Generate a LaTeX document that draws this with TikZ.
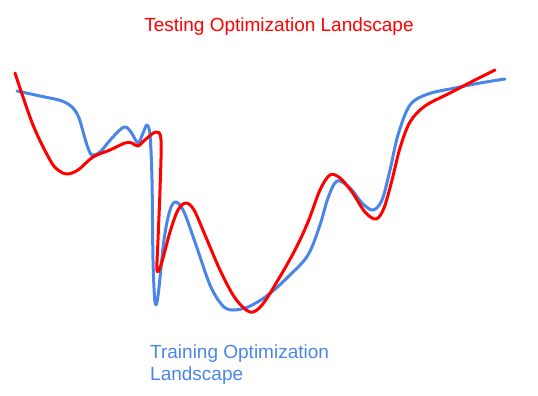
\documentclass[tikz,border=0pt]{standalone}
\usepackage{fontspec}
\setmainfont{Liberation Sans}
\definecolor{trainblue}{RGB}{74,134,232}
\definecolor{testred}{RGB}{255,0,0}
\begin{document}
\begin{tikzpicture}[x=1pt,y=-1pt,
  curve/.style={line width=3pt,line cap=round,line join=round},
  lbl/.style={font=\fontsize{19}{22}\selectfont,inner sep=0pt}]
\useasboundingbox (0,0) rectangle (538,396);
% training curve (blue)
\draw[curve,trainblue] plot[smooth,tension=0.55] coordinates {
 (17,91) (40,96) (62,101) (73,108) (79,118) (84,135) (88,148) (92,155) (100,152) (112,138) (124,127) (131,132) (138,143) (143,133) (147,125) (150,135)
 (152,180) (153,260) (155,302) (158,296) (164,240) (170,210) (176,202) (184,212) (196,245) (210,285) (222,305) (232,310) (248,307)
 (268,295) (290,275) (308,255) (320,225) (328,198) (337,181) (350,188) (362,203) (373,210) (382,200) (390,170) (398,135) (410,105)
 (428,94) (455,88) (480,83) (505,79)};
% testing curve (red)
\draw[curve,testred] plot[smooth,tension=0.55] coordinates {
 (15,73) (33,125) (50,160) (58,170) (67,174) (78,170) (93,157) (110,150) (125,143) (132,143) (138,146) (146,139) (156,132) (161,140)
 (160,190) (158,240) (157,270) (161,265) (170,232) (178,210) (186,203) (194,210) (205,235) (220,270) (235,298) (250,312) (262,305)
 (278,280) (295,250) (308,222) (320,190) (330,175) (340,178) (352,192) (365,212) (376,219) (384,208) (392,180) (400,148) (410,122) (425,106)
 (450,93) (475,80) (495,70)};
\node[lbl,text=testred,anchor=base] (testlbl) at (279,32) {Testing Optimization Landscape};
\node[lbl,text=trainblue,anchor=north west,align=left] (trainlbl) at (150,345) {Training Optimization\\Landscape};
\end{tikzpicture}
\end{document}
